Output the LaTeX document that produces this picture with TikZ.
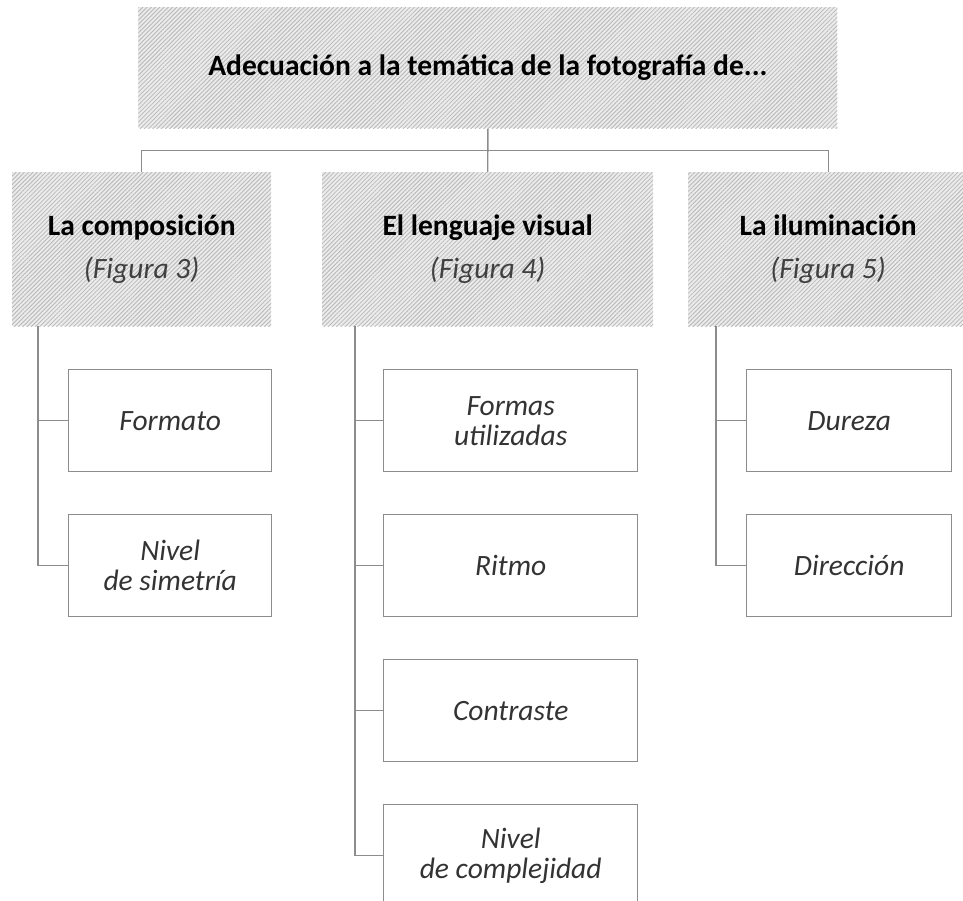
\documentclass[tikz,border=0pt]{standalone}
\usepackage{fontspec}
\setmainfont{Carlito}
\usetikzlibrary{patterns.meta,calc}
\definecolor{linegray}{HTML}{8C8C8C}
\definecolor{hatchbg}{HTML}{EBEBEB}
\definecolor{hatchln}{HTML}{B8B8B8}
\definecolor{figtxt}{HTML}{404040}
\definecolor{itxt}{HTML}{333333}
\tikzset{
  hatched/.style={draw=none, inner sep=0pt, anchor=north west, align=center,
    preaction={fill=hatchbg},
    pattern={Lines[angle=45,distance=3pt,line width=0.8pt]}, pattern color=hatchln},
  topbox/.style={hatched, minimum width=699pt, minimum height=121pt,
    font=\fontsize{29.5}{30}\selectfont\bfseries},
  headbox/.style={hatched, minimum height=154pt,
    font=\fontsize{29.5}{30}\selectfont\bfseries},
  leafbox/.style={draw=linegray, line width=1.4pt, fill=white, inner sep=0pt,
    anchor=north west, minimum height=102pt, align=center, text=itxt,
    font=\fontsize{29.5}{30}\selectfont\itshape},
  conn/.style={draw=linegray, line width=1.4pt},
}
\newcommand{\figref}[1]{\\[13pt]{\mdseries\itshape\color{figtxt}(Figura #1)}}
\begin{document}
\begin{tikzpicture}[x=1pt,y=-1pt]
\clip (0,0) rectangle (963,901);
\fill[white] (0,0) rectangle (963,901);
% top
\node[topbox] (top) at (138,7) {Adecuación a la temática de la fotografía de...};
% headers
\node[headbox, minimum width=259pt] (h1) at (12,172) {La composición\figref{3}};
\node[headbox, minimum width=331pt] (h2) at (322,172) {El lenguaje visual\figref{4}};
\node[headbox, minimum width=280pt] (h3) at (688,172) {La iluminación\figref{5}};
% leaves
\node[leafbox, minimum width=203pt] (c11) at (68,369) {Formato};
\node[leafbox, minimum width=203pt] (c12) at (68,514) {Nivel\\de simetría};
\node[leafbox, minimum width=254pt] (c21) at (383,369) {Formas\\utilizadas};
\node[leafbox, minimum width=254pt] (c22) at (383,514) {Ritmo};
\node[leafbox, minimum width=254pt] (c23) at (383,659) {Contraste};
\node[leafbox, minimum width=254pt] (c24) at (383,804) {Nivel\\de complejidad};
\node[leafbox, minimum width=205pt] (c31) at (746,369) {Dureza};
\node[leafbox, minimum width=205pt] (c32) at (746,514) {Dirección};
% connectors top -> headers
\coordinate (bus) at ($(top.south)!0.5!(h2.north)$);
\draw[conn] (top.south) -- (h2.north);
\draw[conn] (h1.north) |- (bus) -| (h3.north);
% connectors headers -> leaves
\coordinate (s1) at ([xshift=26pt]h1.south west);
\coordinate (s2) at ([xshift=33pt]h2.south west);
\coordinate (s3) at ([xshift=28pt]h3.south west);
\draw[conn] (s1) |- (c12.west);
\draw[conn] (s1 |- c11.west) -- (c11.west);
\draw[conn] (s2) |- (c24.west);
\draw[conn] (s2 |- c21.west) -- (c21.west);
\draw[conn] (s2 |- c22.west) -- (c22.west);
\draw[conn] (s2 |- c23.west) -- (c23.west);
\draw[conn] (s3) |- (c32.west);
\draw[conn] (s3 |- c31.west) -- (c31.west);
\end{tikzpicture}
\end{document}
